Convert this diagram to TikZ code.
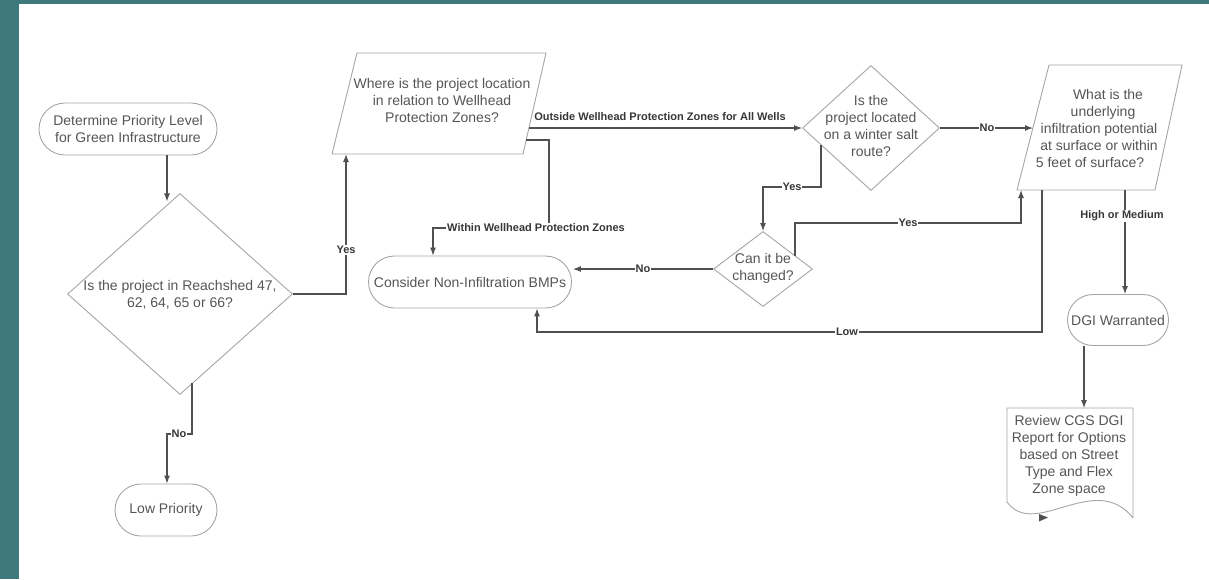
\documentclass[tikz,border=0pt]{standalone}
\usepackage{fontspec}
\setmainfont{Liberation Sans}
\usetikzlibrary{arrows.meta,shapes.geometric,shapes.misc}
\definecolor{tealbar}{RGB}{62,122,125}
\definecolor{shp}{RGB}{165,165,165}
\definecolor{lnc}{RGB}{80,80,80}
\definecolor{txc}{RGB}{85,85,85}
\definecolor{lbc}{RGB}{55,55,55}
\begin{document}
\begin{tikzpicture}[x=1pt,y=-1pt,
  stad/.style={rounded rectangle, draw=shp, line width=0.9pt, text=txc,
    font=\fontsize{14}{17}\selectfont, align=center, inner sep=0pt},
  dia/.style={diamond, draw=shp, line width=0.9pt, inner sep=0pt},
  outl/.style={draw=shp, line width=0.9pt, line join=round},
  txt/.style={text=txc, font=\fontsize{14}{17}\selectfont, align=center, inner sep=0pt},
  conn/.style={draw=lnc, line width=1.1pt, -{Latex[length=8pt,width=6pt]}},
  lbl/.style={font=\fontsize{11}{13}\selectfont\bfseries, text=lbc, fill=white, inner sep=1pt}
]
\useasboundingbox (0,0) rectangle (1209,579);
\fill[tealbar] (0,0) rectangle (19,579);
\fill[tealbar] (0,0) rectangle (1209,4);

% ---------- nodes ----------
\node[stad, minimum width=178pt, minimum height=52pt] (start) at (128,129)
  {Determine Priority Level\\for Green Infrastructure};
\node[dia, minimum width=225pt, minimum height=201pt] (d1) at (180,294) {};
\node[txt] (d1t) at (180,295) {Is the project in Reachshed 47,\\62, 64, 65 or 66?};
\node[stad, minimum width=102pt, minimum height=52pt] (low) at (166,510) {Low Priority};

% parallelogram 1
\draw[outl] (357,53) -- (546,53) -- (523,154) -- (332,154) -- cycle;
\node[txt] (p1) at (442,100) {Where is the project location\\in relation to Wellhead\\Protection Zones?};
\coordinate (p1out) at (529,128);
\coordinate (p1in) at (526,140);
\coordinate (p1bot) at (346,154);

\node[stad, minimum width=203pt, minimum height=52pt] (cons) at (470,282)
  {Consider Non-Infiltration BMPs};

\node[dia, minimum width=137pt, minimum height=125pt] (d2) at (871,128) {};
\node[txt] (d2t) at (871,126) {Is the\\project located\\on a winter salt\\route?};

\node[dia, minimum width=99pt, minimum height=75pt] (d3) at (763,269) {};
\node[txt] (d3t) at (763,268) {Can it be\\changed?};

% parallelogram 2
\draw[outl] (1049,65) -- (1182,65) -- (1155,190) -- (1017,190) -- cycle;
\node[txt] (p2) at (1099,128) {\hspace*{18pt}What is the\\\hspace*{8pt}underlying\\infiltration potential\\at surface or within\hspace*{10pt}\\5 feet of surface?\hspace*{18pt}};
\coordinate (p2in) at (1033,128);
\coordinate (p2yes) at (1021,190);
\coordinate (p2low) at (1042,190);
\coordinate (p2high) at (1125,190);

\node[stad, minimum width=101pt, minimum height=51pt] (dgi) at (1118,320) {DGI Warranted};

% document shape
\draw[outl] (1007,408) -- (1133,408) -- (1133,518)
  .. controls (1095,470) and (1035,540) .. (1007,502) -- cycle;
\node[txt] (doc) at (1069,456) {Review CGS DGI\\Report for Options\\based on Street\\Type and Flex\\Zone space};
\coordinate (doctop) at (1084,408);
\fill[lnc] (1048,517.5) -- (1039,514) -- (1039,521.5) -- cycle;

% ---------- connectors ----------
\draw[conn] ([xshift=39pt]start.south) -- ([xshift=39pt,yshift=-46pt]start.south);

\draw[conn] (192,383) -- (192,434) -- (167,434) -- (low.north -| 167,0);
\node[lbl] at (179,434) {No};

\draw[conn] (d1.east) -- (346,294) -- (p1bot);
\node[lbl] at (346,250) {Yes};

\draw[conn] (p1out) -- (d2.west);
\node[lbl, fill=none] at (660,117) {Outside Wellhead Protection Zones for All Wells};

\draw[conn] (p1in) -- (549,140) -- (549,228) -- (433,228) -- (cons.north -| 433,0);
\node[lbl] at (536,228) {Within Wellhead Protection Zones};

\draw[conn] (d2.east) -- (p2in);
\node[lbl] at (987,128) {No};

\draw[conn] (821,145) -- (821,187) -- (763,187) -- (d3.north);
\node[lbl] at (792,187) {Yes};

\draw[conn] (d3.west) -- ([xshift=1pt]cons.east |- d3.west);
\node[lbl] at (643,269) {No};

\draw[conn] (795,255.5) -- (795,223) -- (1021,223) -- (p2yes);
\node[lbl] at (908,223) {Yes};

\draw[conn] (p2low) -- (1042,332) -- (537,332) -- (cons.south -| 537,0);
\node[lbl] at (847,332) {Low};

\draw[conn] (p2high) -- (dgi.north -| 1125,0);
\node[lbl] at (1122,216) {High or Medium};

\draw[conn] (dgi.south -| 1084,0) -- (doctop);
\end{tikzpicture}
\end{document}
